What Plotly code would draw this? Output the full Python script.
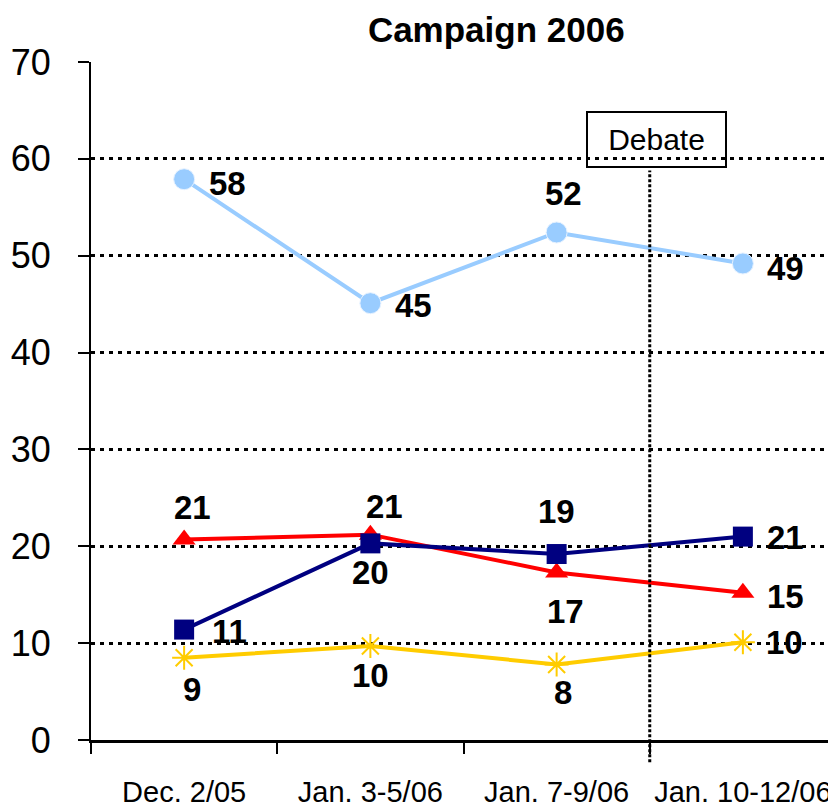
import plotly.graph_objects as go

# ---- data ----
dates = ["Dec. 2/05", "Jan. 3-5/06", "Jan. 7-9/06", "Jan. 10-12/06"]
light_blue_vals = [57.9, 45.1, 52.4, 49.2]
light_blue_labels = ["58", "45", "52", "49"]
red_vals = [20.7, 21.2, 17.3, 15.2]
red_labels = ["21", "21", "17", "15"]
navy_vals = [11.4, 20.3, 19.2, 21.0]
navy_labels = ["11", "20", "19", "21"]
yellow_vals = [8.5, 9.7, 7.8, 10.1]
yellow_labels = ["9", "10", "8", "10"]
y_ticks = [0, 10, 20, 30, 40, 50, 60, 70]
debate_label = "Debate"
title_text = "Campaign 2006"

FONT = "Liberation Sans, Arial, sans-serif"

# label offsets in pixels (style, not data)
offsets = {
    "lb": [(43, -4), (43, -2), (7, 39), (43, -5)],
    "red": [(8, 32), (14, 28), (9, -39), (43, -4)],
    "navy": [(45, -2), (0, -29), (0, 43), (43, -1)],
    "yellow": [(8, -32), (0, -29), (6, -28), (42, 0)],
}

fig = go.Figure()

fig.add_trace(go.Scatter(
    x=dates, y=yellow_vals, mode="lines+markers",
    line=dict(color="#FFCC00", width=4),
    marker=dict(symbol="asterisk-open", size=20, color="#FFCC00",
                line=dict(color="#FFCC00", width=2)),
    showlegend=False, hoverinfo="skip"))

fig.add_trace(go.Scatter(
    x=dates, y=red_vals, mode="lines+markers",
    line=dict(color="#FF0000", width=4),
    marker=dict(symbol="triangle-up", size=20, color="#FF0000"),
    showlegend=False, hoverinfo="skip"))

fig.add_trace(go.Scatter(
    x=dates, y=navy_vals, mode="lines+markers",
    line=dict(color="#000080", width=4),
    marker=dict(symbol="square", size=20, color="#000080"),
    showlegend=False, hoverinfo="skip"))

fig.add_trace(go.Scatter(
    x=dates, y=light_blue_vals, mode="lines+markers",
    line=dict(color="#99CCFF", width=4),
    marker=dict(symbol="circle", size=21, color="#99CCFF",
                line=dict(color="#E6F2FF", width=1)),
    showlegend=False, hoverinfo="skip"))

series = [
    ("lb", light_blue_vals, light_blue_labels),
    ("red", red_vals, red_labels),
    ("navy", navy_vals, navy_labels),
    ("yellow", yellow_vals, yellow_labels),
]
annotations = []
for key, vals, labs in series:
    for i, (v, t) in enumerate(zip(vals, labs)):
        dx, dy = offsets[key][i]
        annotations.append(dict(
            x=dates[i], y=v, xref="x", yref="y", text=t, showarrow=False,
            xshift=dx, yshift=dy, xanchor="center", yanchor="middle",
            font=dict(family=FONT, size=33, color="black", weight="bold")))

# Debate box
annotations.append(dict(
    x=2.5, y=0.885, xref="x", yref="paper", text=debate_label, showarrow=False,
    xshift=7, xanchor="center", yanchor="middle",
    font=dict(family=FONT, size=30, color="black"),
    bordercolor="black", borderwidth=2, borderpad=0, width=137, height=53))

fig.add_shape(type="line", xref="x", yref="paper", x0=2.5, x1=2.5,
              y0=-0.033, y1=0.84,
              line=dict(color="black", width=3, dash="3px,2px"))

# page has an 8px body margin: size/margins compensate so the chart sits like the reference
fig.update_layout(
    width=828, height=801,
    margin=dict(l=83, r=0, t=54, b=69, autoexpand=False),
    paper_bgcolor="white", plot_bgcolor="white",
    font=dict(family=FONT, color="black"),
    title=dict(text=title_text, x=0.544, xref="paper", xanchor="center",
               y=0.9725, yref="container", yanchor="middle",
               font=dict(family=FONT, size=35, color="black", weight="bold")),
    annotations=annotations,
    xaxis=dict(
        type="category", range=[-0.5, 3.5], showgrid=False, zeroline=False,
        showline=True, linecolor="black", linewidth=2.5,
        ticks="outside", tickson="boundaries", ticklen=11, tickwidth=2,
        tickcolor="black", tickfont=dict(family=FONT, size=29, color="black"),
        tickangle=0, automargin=False, ticklabelstandoff=24),
    yaxis=dict(
        range=[0, 70], tickvals=y_ticks, showgrid=True, gridcolor="black",
        gridwidth=3, griddash="4px,5px", zeroline=False,
        showline=True, linecolor="black", linewidth=2,
        ticks="outside", ticklen=11, tickwidth=2, tickcolor="black",
        tickfont=dict(family=FONT, size=36, color="black"),
        automargin=False, ticklabelstandoff=20),
)

fig.write_html("out.html")
